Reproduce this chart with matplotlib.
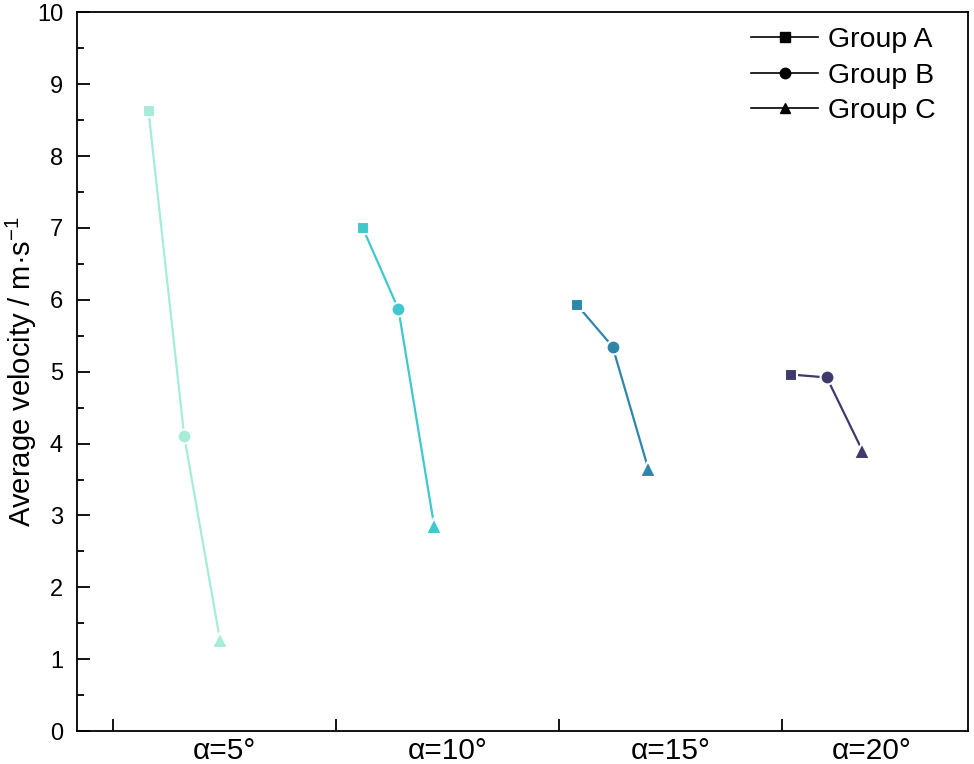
import matplotlib
matplotlib.use("Agg")
import matplotlib.pyplot as plt
from matplotlib.lines import Line2D
from matplotlib.ticker import MultipleLocator

plt.rcParams['font.family'] = ['Liberation Sans', 'DejaVu Sans']
plt.rcParams['mathtext.fontset'] = 'custom'
plt.rcParams['mathtext.rm'] = 'Liberation Sans'
plt.rcParams['mathtext.it'] = 'Liberation Sans'

# ---- data ----
angles = ['α=5°', 'α=10°', 'α=15°', 'α=20°']
groups = ['Group A', 'Group B', 'Group C']
group_a = [8.62, 7.00, 5.93, 4.96]
group_b = [4.10, 5.87, 5.35, 4.92]
group_c = [1.27, 2.86, 3.65, 3.90]
colors = ['#a6ecd9', '#40c8cc', '#2e86aa', '#3e3a6c']
markers = ['s', 'o', '^']
msizes = [9, 10, 11]

# ---- layout ----
group_spacing = 0.96
group_start = -0.18
offsets = [-0.16, 0.0, 0.16]
label_pos = [0, 1, 2, 2.9]
boundary_ticks = [-0.5, 0.5, 1.5, 2.5]

fig = plt.figure(figsize=(9.74, 7.64), dpi=100)
ax = fig.add_axes([0.079, 0.043, 0.915, 0.941])

series = [group_a, group_b, group_c]
for k, ang in enumerate(angles):
    c = group_start + k * group_spacing
    xs = [c + o for o in offsets]
    ys = [s[k] for s in series]
    ax.plot(xs, ys, '-', color=colors[k], lw=1.6, zorder=2)
    for j in range(3):
        ax.plot(xs[j], ys[j], linestyle='none', marker=markers[j], ms=msizes[j],
                mfc=colors[k], mec='white', mew=1.5, zorder=3)

ax.set_xlim(-0.661, 3.334)
ax.set_ylim(0, 10)
ax.yaxis.set_major_locator(MultipleLocator(1))
ax.yaxis.set_minor_locator(MultipleLocator(0.5))
ax.set_xticks(boundary_ticks)
ax.set_xticklabels([])
ax.set_xticks(label_pos, minor=True)
ax.set_xticklabels(angles, minor=True, fontsize=21.5)
ax.tick_params(axis='x', which='minor', length=0, pad=4.5)
ax.tick_params(axis='x', which='major', direction='in', length=9, width=1.3)
ax.tick_params(axis='y', which='major', direction='in', length=9, width=1.3, labelsize=17, pad=10)
ax.tick_params(axis='y', which='minor', direction='in', length=5, width=1.3)
for sp in ax.spines.values():
    sp.set_linewidth(1.3)

ax.set_ylabel('Average velocity / m·s$^{-1}$', fontsize=21)
ax.yaxis.set_label_coords(-0.043, 0.5)

handles = [Line2D([0], [0], color='black', lw=1.2, marker=m, ms=7.5, mfc='black', mec='black')
           for m in markers]
ax.legend(handles, groups, loc='upper right', frameon=False, fontsize=20.5,
          handlelength=2.35, handletextpad=0.35, labelspacing=0.33,
          borderaxespad=0, borderpad=0, bbox_to_anchor=(0.964, 0.979))

fig.savefig('out.png', dpi=100)
